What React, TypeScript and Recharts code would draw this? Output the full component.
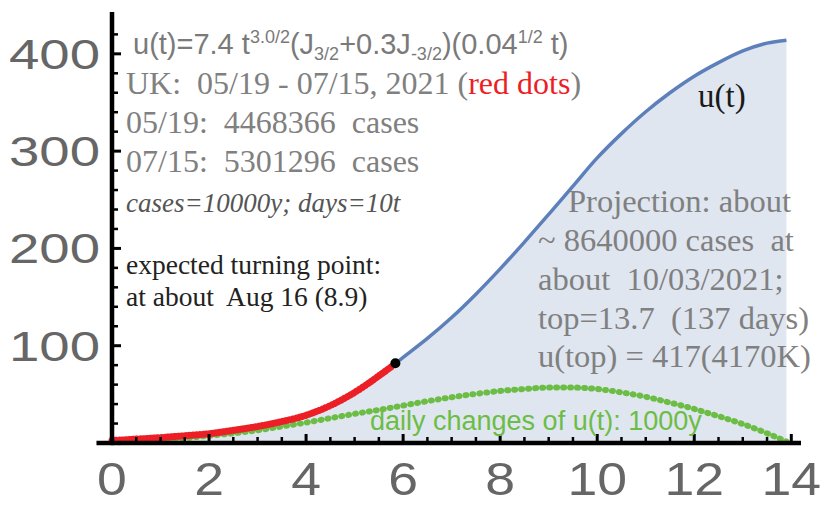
import React from "react";
import {
  ComposedChart,
  XAxis,
  YAxis,
  Line,
  Area,
  ReferenceLine,
  ReferenceDot,
} from "recharts";

// model curve u(t)
const fitT = [0, 0.5, 1, 1.5, 2, 2.5, 3, 3.5, 4, 4.5, 5, 5.5, 6, 6.5, 7, 7.5, 8, 8.5, 9, 9.5, 10, 10.5, 11, 11.5, 12, 12.5, 13, 13.5, 13.9];
const fitU = [1, 2.5, 4, 6, 8.5, 12, 16, 21, 27.5, 37.5, 51.5, 68.5, 88, 107.5, 129, 153, 179, 206.5, 235, 264, 293, 318, 340.5, 360, 377, 391, 403, 411, 414];

// observed cases (red dots)
const caseT = [0, 0.5, 1, 1.5, 2, 2.5, 3, 3.5, 4, 4.5, 5, 5.5, 5.8];
const caseU = [2.5, 4, 5.5, 7.5, 9.5, 13, 17, 22, 28.5, 38.5, 52, 69, 80];

// daily changes (green dots)
const dailyT = [0, 0.5, 1, 1.5, 2, 2.5, 3, 3.5, 4, 4.5, 5, 5.5, 6, 6.5, 7, 7.5, 8, 8.5, 9, 9.5, 10, 10.5, 11, 11.5, 12, 12.5, 13, 13.5, 13.9];
const dailyU = [0.5, 1.5, 3, 5, 7.5, 10, 13, 17, 21, 25.5, 30, 34, 38.5, 43, 47, 50.5, 53.5, 55.5, 57, 57, 55.5, 52, 47.5, 41.5, 35, 27.5, 19.5, 10, 1.5];

const lastObserved = { t: 5.84, u: 82 };

const xLabels = [0, 2, 4, 6, 8, 10, 12, 14];
const yLabels = [100, 200, 300, 400];
const xTicks = Array.from({ length: 29 }, (_, i) => i * 0.5);
const yTicks = Array.from({ length: 22 }, (_, i) => i * 20);

const fitData = fitT.map((t, i) => ({ t, u: fitU[i] }));
const caseData = caseT.map((t, i) => ({ t, u: caseU[i] }));
const dailyData = dailyT.map((t, i) => ({ t, u: dailyU[i] }));

const SANS = "'Liberation Sans', Arial, sans-serif";
const SERIF = "'Liberation Serif', 'Times New Roman', serif";

function XTick({ x, y, payload }: any) {
  const v = payload.value;
  const major = xLabels.includes(v);
  return (
    <g>
      {v > 0 && (
        <line x1={x} x2={x} y1={y} y2={y - (major ? 9 : 6)} stroke="#000" strokeWidth={major ? 3 : 2.5} />
      )}
      {major && (
        <text
          transform={`translate(${x},${y + 52}) scale(1.14,1)`}
          textAnchor="middle"
          fontFamily={SANS}
          fontSize={47}
          fill="#666"
        >
          {v}
        </text>
      )}
    </g>
  );
}

function YTick({ x, y, payload }: any) {
  const v = payload.value;
  const major = yLabels.includes(v);
  return (
    <g>
      {v > 0 && (
        <line x1={x} x2={x + (major ? 9 : 6)} y1={y} y2={y} stroke="#000" strokeWidth={major ? 3 : 2.5} />
      )}
      {major && (
        <text
          transform={`translate(${x - 12},${y + 15}) scale(1.3,1)`}
          textAnchor="end"
          fontFamily={SANS}
          fontSize={42}
          fill="#666"
        >
          {v}
        </text>
      )}
    </g>
  );
}

function Notes() {
  const pre = { whiteSpace: "pre" as const };
  return (
    <svg
      width={824}
      height={506}
      style={{ position: "absolute", left: 0, top: 0, pointerEvents: "none" }}
    >
      <text x={133} y={54} fontFamily={SANS} fontSize={29} fill="#7a7a7a" style={pre}>
        {"u(t)=7.4 t"}
        <tspan dy={-11} fontSize={18}>3.0/2</tspan>
        <tspan dy={11}>(J</tspan>
        <tspan dy={6} fontSize={18}>3/2</tspan>
        <tspan dy={-6}>+0.3J</tspan>
        <tspan dy={6} fontSize={18}>-3/2</tspan>
        <tspan dy={-6}>)(0.04</tspan>
        <tspan dy={-11} fontSize={18}>1/2</tspan>
        <tspan dy={11}>{" t)"}</tspan>
      </text>
      <text x={126} y={94} fontFamily={SERIF} fontSize={32} fill="#808080" style={pre}>
        {"UK:  05/19 - 07/15, 2021 ("}
        <tspan fill="#ec1f26">red dots</tspan>
        {")"}
      </text>
      <text x={126} y={133} fontFamily={SERIF} fontSize={32} fill="#808080" style={pre}>
        {"05/19:  4468366  cases"}
      </text>
      <text x={126} y={172} fontFamily={SERIF} fontSize={32} fill="#808080" style={pre}>
        {"07/15:  5301296  cases"}
      </text>
      <text x={126} y={212} fontFamily={SERIF} fontSize={27} fontStyle="italic" fill="#555" style={pre}>
        {"cases=10000y; days=10t"}
      </text>
      <text x={126} y={274} fontFamily={SERIF} fontSize={27.5} fill="#222" style={pre}>
        {"expected turning point:"}
      </text>
      <text x={126} y={306} fontFamily={SERIF} fontSize={27.5} fill="#222" style={pre}>
        {"at about  Aug 16 (8.9)"}
      </text>
      <text x={698} y={107} fontFamily={SERIF} fontSize={33} fill="#1a1a1a">
        u(t)
      </text>
      <text x={568} y={212} fontFamily={SERIF} fontSize={32.5} fill="#808080" style={pre}>
        {"Projection: about"}
      </text>
      <text x={538} y={251} fontFamily={SERIF} fontSize={32.5} fill="#808080" style={pre}>
        {"~ 8640000 cases  at"}
      </text>
      <text x={538} y={290} fontFamily={SERIF} fontSize={32.5} fill="#808080" style={pre}>
        {"about  10/03/2021;"}
      </text>
      <text x={538} y={329} fontFamily={SERIF} fontSize={32.5} fill="#808080" style={pre}>
        {"top=13.7  (137 days)"}
      </text>
      <text x={538} y={367} fontFamily={SERIF} fontSize={32.5} fill="#808080" style={pre}>
        {"u(top) = 417(4170K)"}
      </text>
      <text x={370} y={430} fontFamily={SANS} fontSize={27} fill="#6cbd45" style={pre}>
        {"daily changes of u(t): 1000y"}
      </text>
    </svg>
  );
}

export default function App() {
  return (
    <div style={{ position: "absolute", left: 0, top: 0, width: 824, height: 506, background: "#fff" }}>
      <ComposedChart width={824} height={506} margin={{ top: 12, right: 23, bottom: 0, left: 0 }}>
        <XAxis
          type="number"
          dataKey="t"
          domain={[0, 14.2]}
          ticks={xTicks}
          interval={0}
          tick={<XTick />}
          tickLine={false}
          tickSize={0}
          tickMargin={0}
          height={63}
          axisLine={{ stroke: "#000", strokeWidth: 4.5 }}
        />
        <YAxis
          type="number"
          domain={[0, 443]}
          ticks={yTicks}
          interval={0}
          tick={<YTick />}
          tickLine={false}
          tickSize={0}
          tickMargin={0}
          width={112}
          axisLine={{ stroke: "#000", strokeWidth: 4.5 }}
        />
        <Area
          data={fitData}
          dataKey="u"
          type="monotone"
          fill="#dfe6f0"
          fillOpacity={1}
          stroke="none"
          isAnimationActive={false}
        />
        <Line
          data={fitData}
          dataKey="u"
          type="monotone"
          stroke="#5d80ba"
          strokeWidth={3.5}
          dot={false}
          isAnimationActive={false}
        />
        <Line
          data={dailyData}
          dataKey="u"
          type="monotone"
          stroke="#6cbd45"
          strokeWidth={6}
          strokeDasharray="1 6"
          strokeLinecap="round"
          dot={false}
          isAnimationActive={false}
        />
        <Line
          data={caseData}
          dataKey="u"
          type="monotone"
          stroke="#ec1f26"
          strokeWidth={7}
          strokeDasharray="0.5 3"
          strokeLinecap="round"
          dot={false}
          isAnimationActive={false}
        />
        <ReferenceLine
          segment={[{ x: -0.32, y: 0 }, { x: 0, y: 0 }]}
          stroke="#000"
          strokeWidth={4.5}
          ifOverflow="visible"
        />
        <ReferenceDot
          x={lastObserved.t}
          y={lastObserved.u}
          r={5}
          fill="#000"
          stroke="none"
          ifOverflow="visible"
        />
      </ComposedChart>
      <Notes />
    </div>
  );
}
